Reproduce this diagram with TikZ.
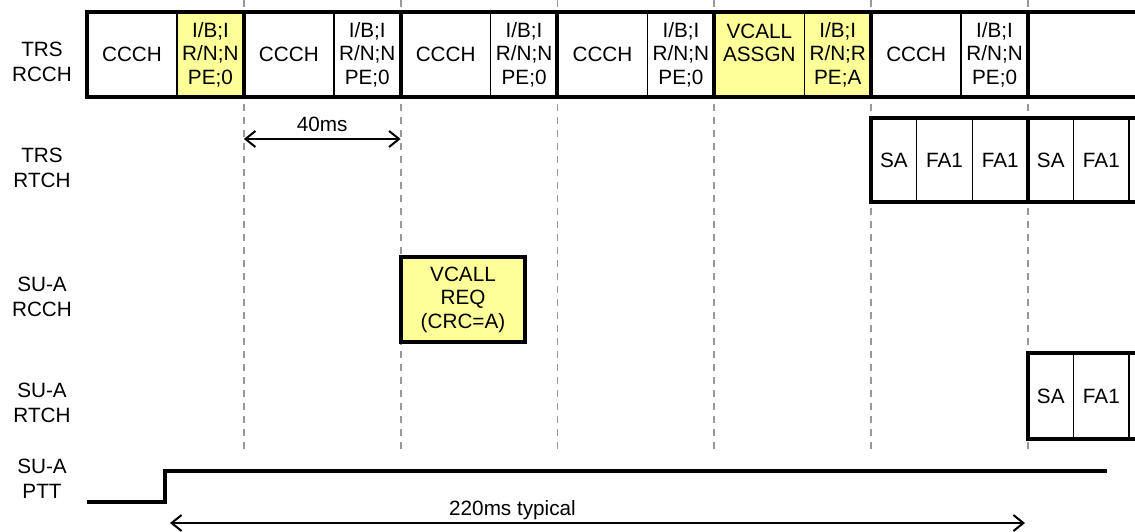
\documentclass[tikz,border=0pt]{standalone}
\usepackage{fontspec}
\setmainfont{Liberation Sans}
\usetikzlibrary{arrows.meta}
\definecolor{cellyellow}{HTML}{FFFF99}
\definecolor{dashgray}{HTML}{999999}
\begin{document}
\begin{tikzpicture}[x=1pt,y=-1pt,
  font=\fontsize{20.7}{23.5}\selectfont,
  cellbox/.style={draw, line width=1.5pt, inner sep=0pt, outer sep=0pt, anchor=west, align=center, fill=white},
  topcell/.style={cellbox, minimum height=85pt},
  framebox/.style={draw, line width=4pt, line join=miter},
  gridline/.style={draw=dashgray, line width=1.8pt, dash pattern=on 7pt off 6pt},
  rowlabel/.style={align=center, font=\fontsize{20.7}{25.5}\selectfont, inner sep=0pt},
  dimarrow/.style={line width=2pt, {Straight Barb[length=10pt,width=16pt]}-{Straight Barb[length=10pt,width=16pt]}},
  pttline/.style={line width=4pt, line join=miter},
]
\useasboundingbox (0,0) rectangle (1135,531);
\clip (0,0) rectangle (1135,531);

% dashed frame boundaries
\foreach \x in {243.83,400.67,557.5,714.33,871.17,1028}{
  \draw[gridline] (\x,0) -- (\x,452);
}

% row labels
\node[rowlabel] (l1) at (42,62) {TRS\\RCCH};
\node[rowlabel] (l2) at (42,168) {TRS\\RTCH};
\node[rowlabel] (l3) at (42,297) {SU-A\\RCCH};
\node[rowlabel] (l4) at (42,403) {SU-A\\RTCH};
\node[rowlabel] (l5) at (42,479) {SU-A\\PTT};

% TRS RCCH row
\node[topcell, minimum width=90pt] (c1) at (87,54.5) {CCCH};
\node[topcell, minimum width=66.83pt, fill=cellyellow] (i1) at (c1.east) {I/B;I\\R/N;N\\PE;0};
\node[topcell, minimum width=90pt] (c2) at (i1.east) {CCCH};
\node[topcell, minimum width=66.83pt] (i2) at (c2.east) {I/B;I\\R/N;N\\PE;0};
\node[topcell, minimum width=90pt] (c3) at (i2.east) {CCCH};
\node[topcell, minimum width=66.83pt] (i3) at (c3.east) {I/B;I\\R/N;N\\PE;0};
\node[topcell, minimum width=90pt] (c4) at (i3.east) {CCCH};
\node[topcell, minimum width=66.83pt] (i4) at (c4.east) {I/B;I\\R/N;N\\PE;0};
\node[topcell, minimum width=90pt, fill=cellyellow] (c5) at (i4.east) {VCALL\\ASSGN\\~};
\node[topcell, minimum width=66.83pt, fill=cellyellow] (i5) at (c5.east) {I/B;I\\R/N;R\\PE;A};
\node[topcell, minimum width=90pt] (c6) at (i5.east) {CCCH};
\node[topcell, minimum width=66.83pt] (i6) at (c6.east) {I/B;I\\R/N;N\\PE;0};
\node[topcell, minimum width=156.83pt] (c7) at (i6.east) {};
\foreach \n in {1,...,6}{
  \draw[framebox] (c\n.north west) rectangle (i\n.south east);
}
\draw[framebox] (c7.north west) rectangle (c7.south east);

% TRS RTCH row
\node[cellbox, minimum height=84pt, minimum width=45.5pt] (ts1) at (871.17,160) {SA};
\node[cellbox, minimum height=84pt, minimum width=55.67pt] (tf1) at (ts1.east) {FA1};
\node[cellbox, minimum height=84pt, minimum width=55.67pt] (tg1) at (tf1.east) {FA1};
\node[cellbox, minimum height=84pt, minimum width=45.5pt] (ts2) at (tg1.east) {SA};
\node[cellbox, minimum height=84pt, minimum width=55.67pt] (tf2) at (ts2.east) {FA1};
\node[cellbox, minimum height=84pt, minimum width=55.67pt] (tg2) at (tf2.east) {};
\draw[framebox] (ts1.north west) rectangle (tg1.south east);
\draw[framebox] (ts2.north west) rectangle (tg2.south east);

% SU-A RCCH
\node[cellbox, anchor=center, fill=cellyellow, minimum width=124pt, minimum height=85pt, line width=4pt] (req) at (463,299.5) {VCALL\\REQ\\(CRC=A)};

% SU-A RTCH row
\node[cellbox, minimum height=86pt, minimum width=45.5pt] (us1) at (1028,396) {SA};
\node[cellbox, minimum height=86pt, minimum width=55.67pt] (uf1) at (us1.east) {FA1};
\node[cellbox, minimum height=86pt, minimum width=55.67pt] (ug1) at (uf1.east) {};
\draw[framebox] (us1.north west) rectangle (ug1.south east);

% 40 ms
\coordinate (m40a) at (243.83,139);
\coordinate (m40b) at (400.67,139);
\draw[dimarrow] (m40a) -- (m40b);
\node[anchor=base, inner sep=0pt] (t40) at (322.25,131) {40ms};

% PTT
\coordinate (p0) at (87,502);
\coordinate (p1) at (165,502);
\coordinate (p2) at (165,471);
\coordinate (p3) at (1107,471);
\draw[pttline] (p0) -- (p1) -- (p2) -- (p3);

% 220 ms
\coordinate (m220a) at (170,523);
\coordinate (m220b) at (1025,523);
\draw[dimarrow] (m220a) -- (m220b);
\node[anchor=base, inner sep=0pt] (t220) at (512.5,515) {220ms typical};
\end{tikzpicture}
\end{document}
